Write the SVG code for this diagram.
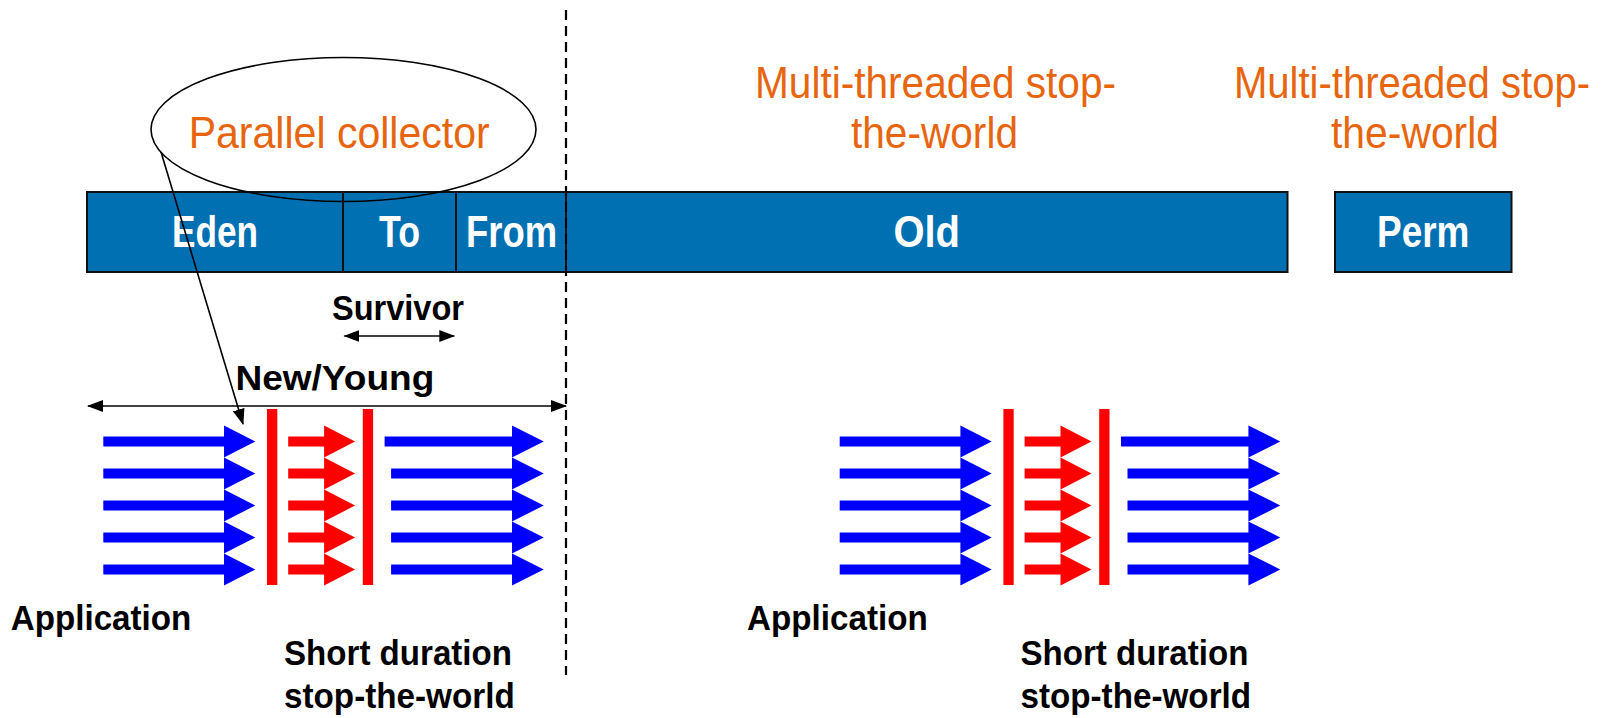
<svg xmlns="http://www.w3.org/2000/svg" xmlns:xlink="http://www.w3.org/1999/xlink" width="1606" height="718" viewBox="0 0 1606 718">
  <style>
    .bar { fill: #0070B3; stroke: #111; stroke-width: 2; }
    .div { stroke: #111; stroke-width: 2; }
    .barlbl { font-family: "Liberation Sans", Arial, sans-serif; font-weight: bold; font-size: 44px; fill: #fff; }
    .note { font-family: "Liberation Sans", Arial, sans-serif; font-size: 44px; fill: #E8650F; }
    .lbl { font-family: "Liberation Sans", Arial, sans-serif; font-weight: bold; font-size: 35px; fill: #000; }
    .thin { stroke: #000; stroke-width: 1.6; fill: none; }
    .blue { fill: #0000FF; }
    .red { fill: #FF0000; }
  </style>
  <defs>
    <marker id="head" viewBox="0 0 16 12" refX="15" refY="6" markerWidth="16" markerHeight="12" markerUnits="userSpaceOnUse" orient="auto-start-reverse">
      <path d="M0,0 L16,6 L0,12 Z" fill="#000"/>
    </marker>
  </defs>

  <!-- heap generations -->
  <g id="heap">
    <rect class="bar" x="87" y="192" width="1200.5" height="80"/>
    <line class="div" x1="343" y1="192" x2="343" y2="272"/>
    <line class="div" x1="456" y1="192" x2="456" y2="272"/>
    <line class="div" x1="566" y1="192" x2="566" y2="272"/>
    <text class="barlbl" x="172" y="246.5" textLength="86" lengthAdjust="spacingAndGlyphs">Eden</text>
    <text class="barlbl" x="379" y="246.5" textLength="41" lengthAdjust="spacingAndGlyphs">To</text>
    <text class="barlbl" x="466" y="246.5" textLength="91" lengthAdjust="spacingAndGlyphs">From</text>
    <text class="barlbl" x="893.5" y="246.5" textLength="66.5" lengthAdjust="spacingAndGlyphs">Old</text>
  </g>
  <g id="perm">
    <rect class="bar" x="1335" y="192" width="176.5" height="80"/>
    <text class="barlbl" x="1377" y="246.5" textLength="92.5" lengthAdjust="spacingAndGlyphs">Perm</text>
  </g>

  <!-- collector notes -->
  <g id="note-parallel">
    <ellipse class="thin" cx="343.5" cy="129.5" rx="192.5" ry="72"/>
    <text class="note" x="188.7" y="148.3" textLength="301" lengthAdjust="spacingAndGlyphs">Parallel collector</text>
  </g>
  <g id="note-old">
    <text class="note" x="755" y="98.3" textLength="361" lengthAdjust="spacingAndGlyphs">Multi-threaded stop-</text>
    <text class="note" x="851" y="148.3" textLength="167" lengthAdjust="spacingAndGlyphs">the-world</text>
  </g>
  <g id="note-perm">
    <text class="note" x="1234" y="98.3" textLength="356" lengthAdjust="spacingAndGlyphs">Multi-threaded stop-</text>
    <text class="note" x="1331" y="148.3" textLength="168" lengthAdjust="spacingAndGlyphs">the-world</text>
  </g>

  <!-- size labels -->
  <g id="label-survivor">
    <text class="lbl" x="332" y="320" textLength="132" lengthAdjust="spacingAndGlyphs">Survivor</text>
  </g>
  <g id="label-young">
    <text class="lbl" x="235.4" y="390" textLength="199" lengthAdjust="spacingAndGlyphs">New/Young</text>
  </g>

  <!-- young collection threads -->
  <g id="flow-young">
    <path class="blue" d="M103.3,436.5 H224 V425.5 L255.3,441.5 L224,457.5 V446.5 H103.3 Z"/>
    <path class="blue" d="M103.3,468.5 H224 V457.5 L255.3,473.5 L224,489.5 V478.5 H103.3 Z"/>
    <path class="blue" d="M103.3,500.5 H224 V489.5 L255.3,505.5 L224,521.5 V510.5 H103.3 Z"/>
    <path class="blue" d="M103.3,532.5 H224 V521.5 L255.3,537.5 L224,553.5 V542.5 H103.3 Z"/>
    <path class="blue" d="M103.3,564.5 H224 V553.5 L255.3,569.5 L224,585.5 V574.5 H103.3 Z"/>
    <rect class="red" x="267" y="409" width="10.3" height="176"/>
    <rect class="red" x="362.8" y="409" width="10.3" height="176"/>
    <path class="red" d="M288.2,436.5 H324.1 V425.5 L355.1,441.5 L324.1,457.5 V446.5 H288.2 Z"/>
    <path class="red" d="M288.2,468.5 H324.1 V457.5 L355.1,473.5 L324.1,489.5 V478.5 H288.2 Z"/>
    <path class="red" d="M288.2,500.5 H324.1 V489.5 L355.1,505.5 L324.1,521.5 V510.5 H288.2 Z"/>
    <path class="red" d="M288.2,532.5 H324.1 V521.5 L355.1,537.5 L324.1,553.5 V542.5 H288.2 Z"/>
    <path class="red" d="M288.2,564.5 H324.1 V553.5 L355.1,569.5 L324.1,585.5 V574.5 H288.2 Z"/>
    <path class="blue" d="M384.6,436.5 H512 V425.5 L543.8,441.5 L512,457.5 V446.5 H384.6 Z"/>
    <path class="blue" d="M391.1,468.5 H512 V457.5 L543.8,473.5 L512,489.5 V478.5 H391.1 Z"/>
    <path class="blue" d="M391.1,500.5 H512 V489.5 L543.8,505.5 L512,521.5 V510.5 H391.1 Z"/>
    <path class="blue" d="M391.1,532.5 H512 V521.5 L543.8,537.5 L512,553.5 V542.5 H391.1 Z"/>
    <path class="blue" d="M391.1,564.5 H512 V553.5 L543.8,569.5 L512,585.5 V574.5 H391.1 Z"/>
    <text class="lbl" x="10.7" y="630" textLength="180.7" lengthAdjust="spacingAndGlyphs">Application</text>
    <text class="lbl" x="284" y="665" textLength="228" lengthAdjust="spacingAndGlyphs">Short duration</text>
    <text class="lbl" x="284" y="708" textLength="230.7" lengthAdjust="spacingAndGlyphs">stop-the-world</text>
  </g>

  <!-- old collection threads -->
  <g id="flow-old">
    <use xlink:href="#flow-young" href="#flow-young" transform="translate(736.4,0)"/>
  </g>

  <!-- connectors -->
  <g id="connectors">
    <line x1="566" y1="10" x2="566" y2="675" stroke="#000" stroke-width="2.2" stroke-dasharray="10 6"/>
    <line class="thin" x1="161" y1="152" x2="243" y2="424" marker-end="url(#head)"/>
    <line class="thin" x1="344.4" y1="336" x2="454.3" y2="336" marker-start="url(#head)" marker-end="url(#head)"/>
    <line class="thin" x1="88" y1="406" x2="566" y2="406" marker-start="url(#head)" marker-end="url(#head)"/>
  </g>
</svg>
